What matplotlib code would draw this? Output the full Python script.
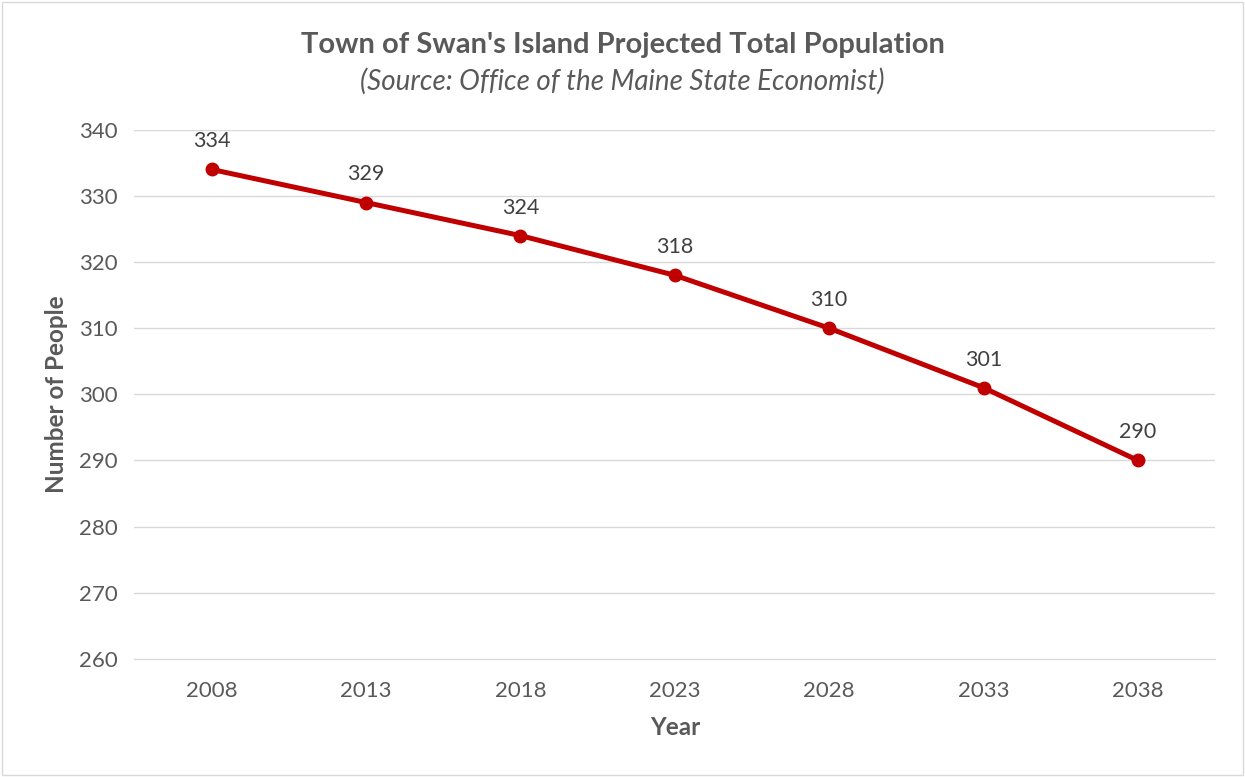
import matplotlib.pyplot as plt
import numpy as np

plt.rcParams['font.family'] = ['Lato', 'DejaVu Sans']

years = ['2008', '2013', '2018', '2023', '2028', '2033', '2038']
population = [334, 329, 324, 318, 310, 301, 290]

grey = '#595959'
red = '#C00000'

fig = plt.figure(figsize=(12.45, 7.77), dpi=100)
ax = fig.add_axes([0.108, 0.152, 0.868, 0.681])

x = np.arange(len(years))
ax.plot(x, population, color=red, linewidth=3.6, marker='o', markersize=9, zorder=3)
for xi, v in zip(x, population):
    ax.annotate(str(v), (xi, v), xytext=(0, 13), textcoords='offset points',
                ha='center', va='bottom', fontsize=15.5, color='#404040')

ax.set_xlim(-0.5, len(years) - 0.5)
ax.set_ylim(260, 340)
ax.set_yticks(np.arange(260, 341, 10))
ax.set_xticks(x)
ax.set_xticklabels(years)
ax.tick_params(axis='both', length=0, labelsize=16, labelcolor=grey)
ax.tick_params(axis='x', pad=16)
ax.tick_params(axis='y', pad=12)
ax.grid(axis='y', color='#d9d9d9', linewidth=1)
ax.set_axisbelow(True)
for s in ['top', 'right', 'left']:
    ax.spines[s].set_visible(False)
ax.spines['bottom'].set_color('#d9d9d9')

ax.set_xlabel('Year', fontsize=17.5, fontweight='bold', color=grey, labelpad=11)
ax.set_ylabel('Number of People', fontsize=17.5, fontweight='bold', color=grey, labelpad=8)

fig.text(0.5, 0.942, "Town of Swan's Island Projected Total Population", ha='center', va='center',
         fontsize=21, fontweight='bold', color=grey)
fig.text(0.5, 0.895, '(Source: Office of the Maine State Economist)', ha='center', va='center',
         fontsize=20, fontstyle='italic', color=grey)

fig.patches.append(plt.Rectangle((0.002, 0.002), 0.996, 0.996, transform=fig.transFigure,
                                 fill=False, edgecolor='#d9d9d9', linewidth=1))

fig.savefig('out.png', dpi=100)
